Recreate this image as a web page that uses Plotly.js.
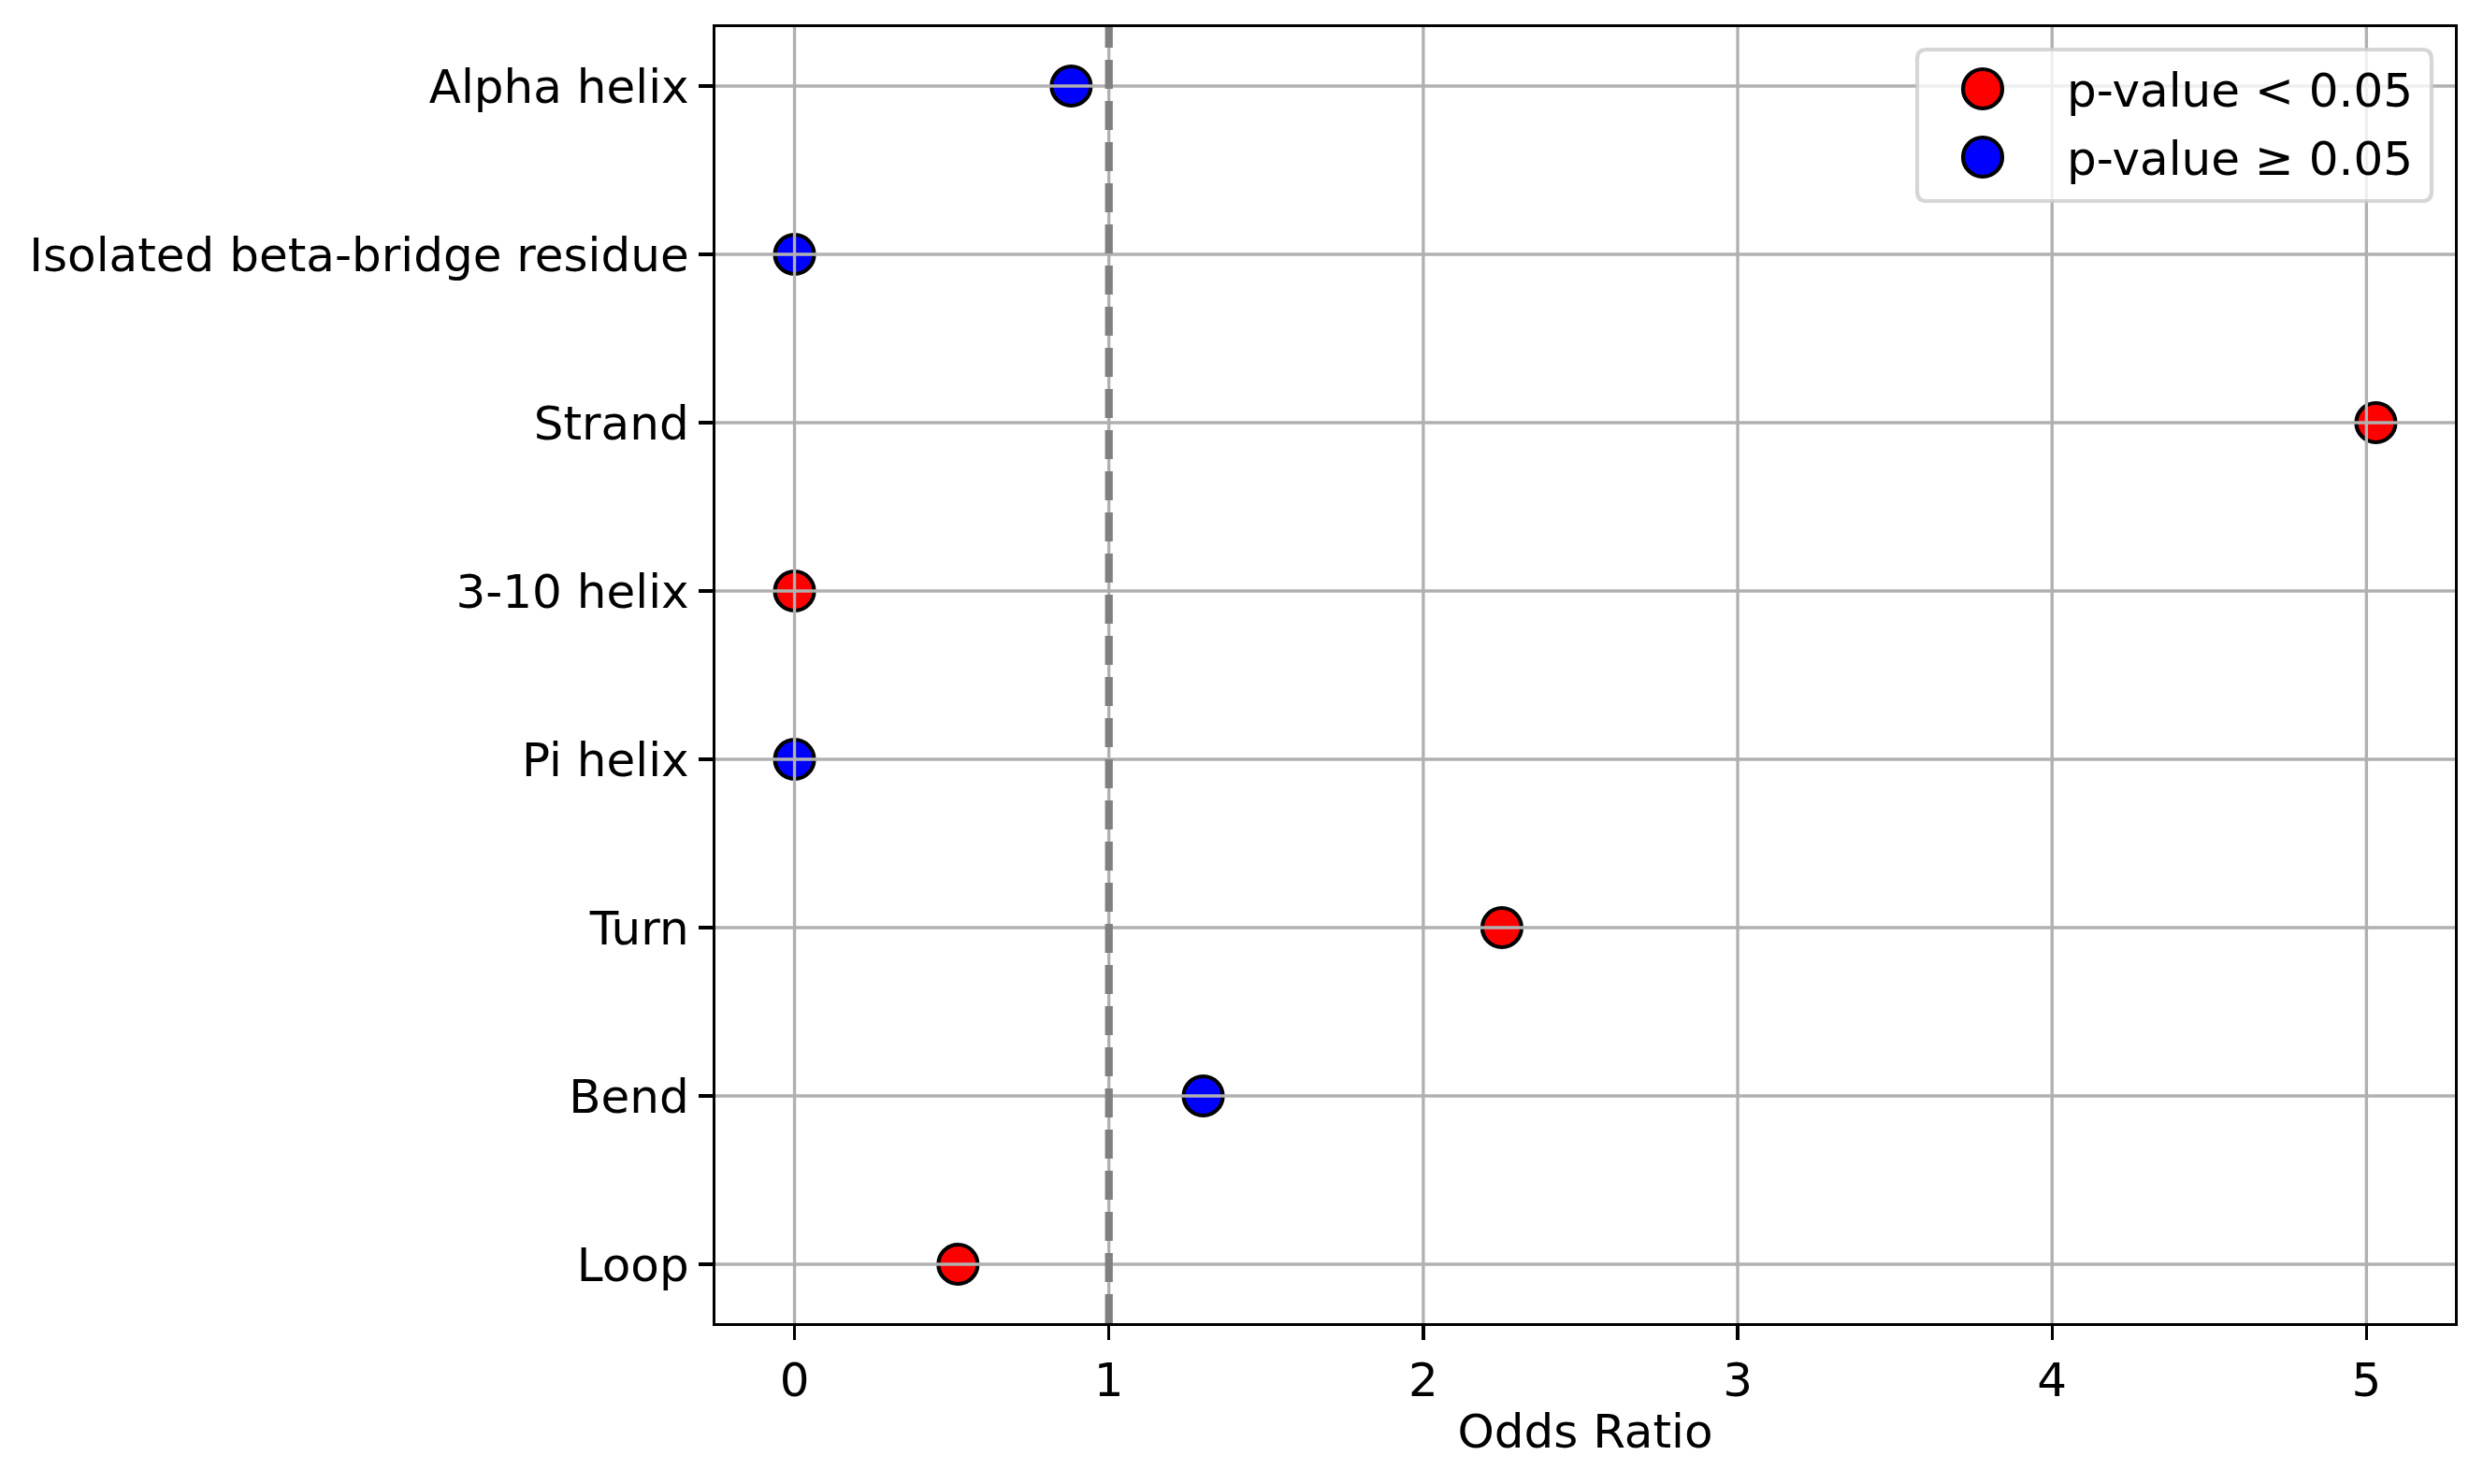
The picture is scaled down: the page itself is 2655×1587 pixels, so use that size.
<!DOCTYPE html>
<html>
<head>
<meta charset="utf-8">
<script src="https://cdn.plot.ly/plotly-3.0.1.min.js"></script>
<style>
html,body{margin:0;padding:0;background:#fff;}
#chart{width:2655px;height:1587px;}
</style>
</head>
<body>
<div id="chart"></div>
<script>
// ---- data ----
var categories = ["Alpha helix", "Isolated beta-bridge residue", "Strand", "3-10 helix", "Pi helix", "Turn", "Bend", "Loop"];
var oddsRatios = [0.88, 0.0, 5.03, 0.0, 0.0, 2.25, 1.30, 0.52];
var significant = [false, false, true, true, false, true, false, true];
var xTicks = [0, 1, 2, 3, 4, 5];
var legendLabels = ["p-value < 0.05", "p-value \u2265 0.05"];
var legendColors = ["#ff0000", "#0000ff"];
var referenceLine = 1;

// ---- layout constants ----
var W = 2655, H = 1587;
var L = 765, R = 30, T = 29, B = 172;
var PW = W - L - R, PH = H - T - B;
var FONT = "DejaVu Sans";
var FS = 50;
var LW = 3.33;

function px2x(px){ return (px - L) / PW; }
function py2y(py){ return (H - B - py) / PH; }

var xmax = Math.max.apply(null, oddsRatios), xmin = 0;
var pad = (xmax - xmin) * 0.05;
var n = categories.length;

function subset(flag){
  var xs = [], ys = [];
  for (var i = 0; i < n; i++) {
    if (significant[i] === flag) { xs.push(oddsRatios[i]); ys.push(categories[i]); }
  }
  return {x: xs, y: ys};
}
var sig = subset(true), non = subset(false);

var traces = [
  {type: "scatter", mode: "markers", name: legendLabels[0], x: sig.x, y: sig.y,
   marker: {color: legendColors[0], size: 42, line: {color: "#000", width: 4.2}}, showlegend: false, cliponaxis: false},
  {type: "scatter", mode: "markers", name: legendLabels[1], x: non.x, y: non.y,
   marker: {color: legendColors[1], size: 42, line: {color: "#000", width: 4.2}}, showlegend: false, cliponaxis: false}
];

var shapes = [];
// gridlines (drawn above markers, as in the reference)
xTicks.forEach(function(t){
  shapes.push({type: "line", layer: "above", xref: "x", yref: "paper", x0: t, x1: t, y0: 0, y1: 1,
               line: {color: "#b0b0b0", width: LW}});
});
categories.forEach(function(c, i){
  shapes.push({type: "line", layer: "above", xref: "paper", yref: "y", x0: 0, x1: 1, y0: i, y1: i,
               line: {color: "#b0b0b0", width: LW}});
});
// reference line
shapes.push({type: "line", layer: "above", xref: "x", yref: "paper", x0: referenceLine, x1: referenceLine, y0: 0, y1: 1,
             line: {color: "#808080", width: 8.3, dash: "31px,13px"}});

// custom legend box (rounded)
var lgL = 2050, lgR = 2600, lgT = 53, lgB = 215;
var hw = (lgR - lgL) / 2, hh = (lgB - lgT) / 2, rr = 10;
var pth = "M " + (-hw + rr) + "," + (-hh) + " L " + (hw - rr) + "," + (-hh) +
  " Q " + hw + "," + (-hh) + " " + hw + "," + (-hh + rr) +
  " L " + hw + "," + (hh - rr) + " Q " + hw + "," + hh + " " + (hw - rr) + "," + hh +
  " L " + (-hw + rr) + "," + hh + " Q " + (-hw) + "," + hh + " " + (-hw) + "," + (hh - rr) +
  " L " + (-hw) + "," + (-hh + rr) + " Q " + (-hw) + "," + (-hh) + " " + (-hw + rr) + "," + (-hh) + " Z";
shapes.push({type: "path", layer: "above", xref: "paper", yref: "paper",
  xsizemode: "pixel", ysizemode: "pixel",
  xanchor: px2x((lgL + lgR) / 2), yanchor: py2y((lgT + lgB) / 2),
  path: pth, fillcolor: "rgba(255,255,255,0.8)", line: {color: "rgba(204,204,204,0.8)", width: 4.2}});

var annotations = [];
var rowY = [95, 168];
legendLabels.forEach(function(lab, i){
  shapes.push({type: "circle", layer: "above", xref: "paper", yref: "paper",
    xsizemode: "pixel", ysizemode: "pixel", xanchor: px2x(2120), yanchor: py2y(rowY[i]),
    x0: -21, x1: 21, y0: -21, y1: 21,
    fillcolor: legendColors[i], line: {color: "#000", width: 4.2}});
  annotations.push({xref: "paper", yref: "paper", x: px2x(2208), y: py2y(rowY[i] + 2),
    xanchor: "left", yanchor: "middle", showarrow: false, text: lab,
    font: {family: FONT, size: FS, color: "#000"}});
});

var layout = {
  width: W, height: H,
  margin: {l: L, r: R, t: T, b: B, pad: 0},
  paper_bgcolor: "#fff", plot_bgcolor: "#fff",
  font: {family: FONT, size: FS, color: "#000"},
  showlegend: false,
  xaxis: {
    range: [xmin - pad, xmax + pad], tickmode: "array", tickvals: xTicks, ticktext: xTicks.map(String),
    showgrid: false, zeroline: false, showline: true, mirror: true, linecolor: "#000", linewidth: LW,
    ticks: "outside", ticklen: 15, tickwidth: LW, tickcolor: "#000",
    tickfont: {family: FONT, size: FS, color: "#000"},
    title: {text: "Odds Ratio", font: {family: FONT, size: FS, color: "#000"}, standoff: 9}
  },
  yaxis: {
    type: "category", categoryorder: "array", categoryarray: categories,
    range: [n - 1 + 0.35, -0.35],
    showgrid: false, zeroline: false, showline: true, mirror: true, linecolor: "#000", linewidth: LW,
    ticks: "outside", ticklen: 15, tickwidth: LW, tickcolor: "#000",
    tickfont: {family: FONT, size: FS, color: "#000"}
  },
  shapes: shapes,
  annotations: annotations
};

Plotly.newPlot("chart", traces, layout, {displayModeBar: false, staticPlot: true});
</script>
</body>
</html>
